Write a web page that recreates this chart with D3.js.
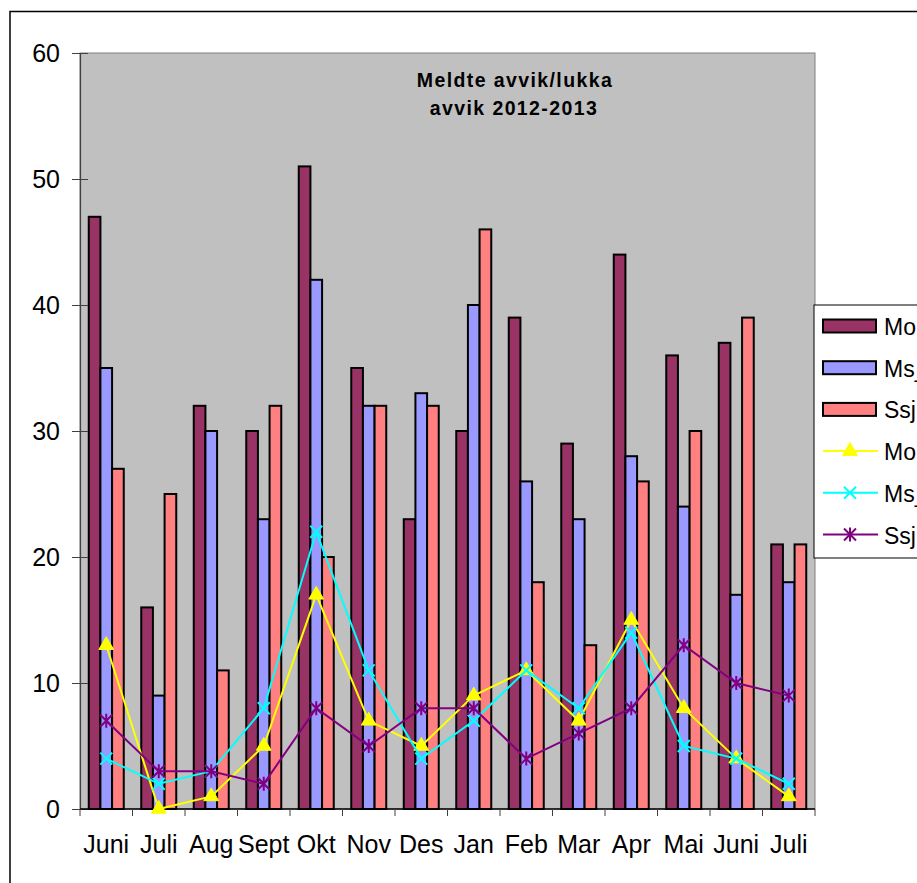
<!DOCTYPE html>
<html>
<head>
<meta charset="utf-8">
<script src="https://cdn.jsdelivr.net/npm/d3@7/dist/d3.min.js"></script>
<style>
  html, body { margin: 0; padding: 0; background: #fff; overflow: hidden; }
  svg { display: block; }
  text { font-family: "Liberation Sans", Arial, sans-serif; }
</style>
</head>
<body>
<svg id="chart" width="917" height="883"></svg>
<script>
const categories = ["Juni", "Juli", "Aug", "Sept", "Okt", "Nov", "Des", "Jan", "Feb", "Mar", "Apr", "Mai", "Juni", "Juli"];
const moMeldt  = [47, 16, 32, 30, 51, 35, 23, 30, 39, 29, 44, 36, 37, 21];
const msMeldt  = [35, 9, 30, 23, 42, 32, 33, 40, 26, 23, 28, 24, 17, 18];
const ssjMeldt = [27, 25, 11, 32, 20, 32, 32, 46, 18, 13, 26, 30, 39, 21];
const moLukka  = [13, 0, 1, 5, 17, 7, 5, 9, 11, 7, 15, 8, 4, 1];
const msLukka  = [4, 2, 3, 8, 22, 11, 4, 7, 11, 8, 14, 5, 4, 2];
const ssjLukka = [7, 3, 3, 2, 8, 5, 8, 8, 4, 6, 8, 13, 10, 9];
const yTicks = [0, 10, 20, 30, 40, 50, 60];
const titleLines = ["Meldte avvik/lukka", "avvik 2012-2013"];
const legendNames = ["Mo", "Ms_", "Ssj", "Mo", "Ms_", "Ssj"];

const barSeries = [
  { name: "Mo", values: moMeldt, color: "#993366" },
  { name: "Ms_", values: msMeldt, color: "#9999FF" },
  { name: "Ssj", values: ssjMeldt, color: "#FF8080" }
];
const lineSeries = [
  { name: "Mo", values: moLukka, color: "#FFFF00", marker: "triangle" },
  { name: "Ms_", values: msLukka, color: "#00FFFF", marker: "x" },
  { name: "Ssj", values: ssjLukka, color: "#800080", marker: "star" }
];

const svg = d3.select("#chart");
const L = 80, R = 815, T = 53, B = 809;

// outer chart border
svg.append("rect").attr("x", 10).attr("y", 11.5).attr("width", 1000).attr("height", 1000)
  .attr("fill", "#fff").attr("stroke", "#000").attr("stroke-width", 1.5);

const idx = categories.map((d, i) => i);
const x = d3.scaleBand().domain(idx).range([L, R]).padding(0);
const xs = d3.scaleBand().domain([0, 1, 2]).range([0, x.bandwidth()])
  .paddingInner(0).paddingOuter(0.75);
const y = d3.scaleLinear().domain([0, 60]).range([B, T]);

// plot area
svg.append("rect").attr("x", L).attr("y", T).attr("width", R - L).attr("height", B - T)
  .attr("fill", "#C0C0C0").attr("stroke", "#808080").attr("stroke-width", 1);

// title
const title = svg.append("text").attr("text-anchor", "middle").attr("font-weight", "bold")
  .attr("font-size", 19.5).attr("fill", "#000");
title.append("tspan").attr("x", 515).attr("y", 87).attr("letter-spacing", 1.4).text(titleLines[0]);
title.append("tspan").attr("x", 514).attr("y", 115).attr("letter-spacing", 1.4).text(titleLines[1]);

// bars
barSeries.forEach((s, k) => {
  svg.append("g").selectAll("rect").data(s.values).join("rect")
    .attr("x", (d, i) => x(i) + xs(k))
    .attr("y", d => y(d))
    .attr("width", xs.bandwidth())
    .attr("height", d => B - y(d))
    .attr("fill", s.color)
    .attr("stroke", "#000").attr("stroke-width", 2);
});

// axes
const yAxis = svg.append("g").attr("transform", `translate(${L},0)`)
  .call(d3.axisLeft(y).tickValues(yTicks).tickSize(8).tickPadding(12).tickFormat(d3.format("d")));
yAxis.select(".domain").attr("stroke", "#404040").attr("stroke-width", 1.2);
yAxis.selectAll(".tick line").attr("x2", 8).attr("x1", -8).attr("stroke", "#404040");
yAxis.selectAll("text").attr("font-size", 25).attr("fill", "#000")
  .attr("font-family", "'Liberation Sans', Arial, sans-serif");

const xAxisG = svg.append("g").attr("transform", `translate(0,${B})`);
xAxisG.append("line").attr("x1", L).attr("x2", R).attr("y1", 0).attr("y2", 0)
  .attr("stroke", "#000").attr("stroke-width", 1.5);
const bounds = idx.map(i => x(i)).concat([R]);
xAxisG.selectAll("line.tk").data(bounds).join("line").attr("class", "tk")
  .attr("x1", d => d).attr("x2", d => d).attr("y1", 0).attr("y2", 7)
  .attr("stroke", "#404040").attr("stroke-width", 1);
xAxisG.selectAll("text").data(categories).join("text")
  .attr("x", (d, i) => x(i) + x.bandwidth() / 2).attr("y", 44)
  .attr("text-anchor", "middle").attr("font-size", 25).attr("fill", "#000").text(d => d);

// lines and markers
function drawMarker(g, type, color, cx, cy) {
  if (type === "triangle") {
    g.append("path").attr("d", d3.symbol().type(d3.symbolTriangle).size(95)())
      .attr("transform", `translate(${cx},${cy})`).attr("fill", color).attr("stroke", color);
  } else if (type === "x") {
    const r = 6;
    g.append("path").attr("d", `M${cx - r},${cy - r}L${cx + r},${cy + r}M${cx - r},${cy + r}L${cx + r},${cy - r}`)
      .attr("stroke", color).attr("stroke-width", 2).attr("fill", "none");
  } else {
    const r = 6;
    g.append("path").attr("d", `M${cx - r},${cy - r}L${cx + r},${cy + r}M${cx - r},${cy + r}L${cx + r},${cy - r}M${cx},${cy - r - 1}L${cx},${cy + r + 1}`)
      .attr("stroke", color).attr("stroke-width", 2).attr("fill", "none");
  }
}
const cxOf = i => x(i) + x.bandwidth() / 2;
lineSeries.forEach(s => {
  const g = svg.append("g");
  g.append("path").datum(s.values)
    .attr("d", d3.line().x((d, i) => cxOf(i)).y(d => y(d)))
    .attr("fill", "none").attr("stroke", s.color).attr("stroke-width", 2);
  s.values.forEach((v, i) => drawMarker(g, s.marker, s.color, cxOf(i), y(v)));
});

// legend
const lg = svg.append("g");
lg.append("rect").attr("x", 814).attr("y", 305).attr("width", 150).attr("height", 253)
  .attr("fill", "#fff").attr("stroke", "#000").attr("stroke-width", 1);
const allSeries = barSeries.map(s => ({ ...s, kind: "bar" })).concat(lineSeries.map(s => ({ ...s, kind: "line" })));
allSeries.forEach((s, k) => {
  const cy = 326 + k * 41.7;
  if (s.kind === "bar") {
    lg.append("rect").attr("x", 823).attr("y", cy - 6.5).attr("width", 53).attr("height", 13)
      .attr("fill", s.color).attr("stroke", "#000").attr("stroke-width", 2);
  } else {
    lg.append("line").attr("x1", 823).attr("x2", 878).attr("y1", cy).attr("y2", cy)
      .attr("stroke", s.color).attr("stroke-width", 2);
    drawMarker(lg, s.marker, s.color, 850, cy);
  }
  lg.append("text").attr("x", 884).attr("y", cy + 9).attr("font-size", 23).attr("fill", "#000").text(legendNames[k]);
});
</script>
</body>
</html>
